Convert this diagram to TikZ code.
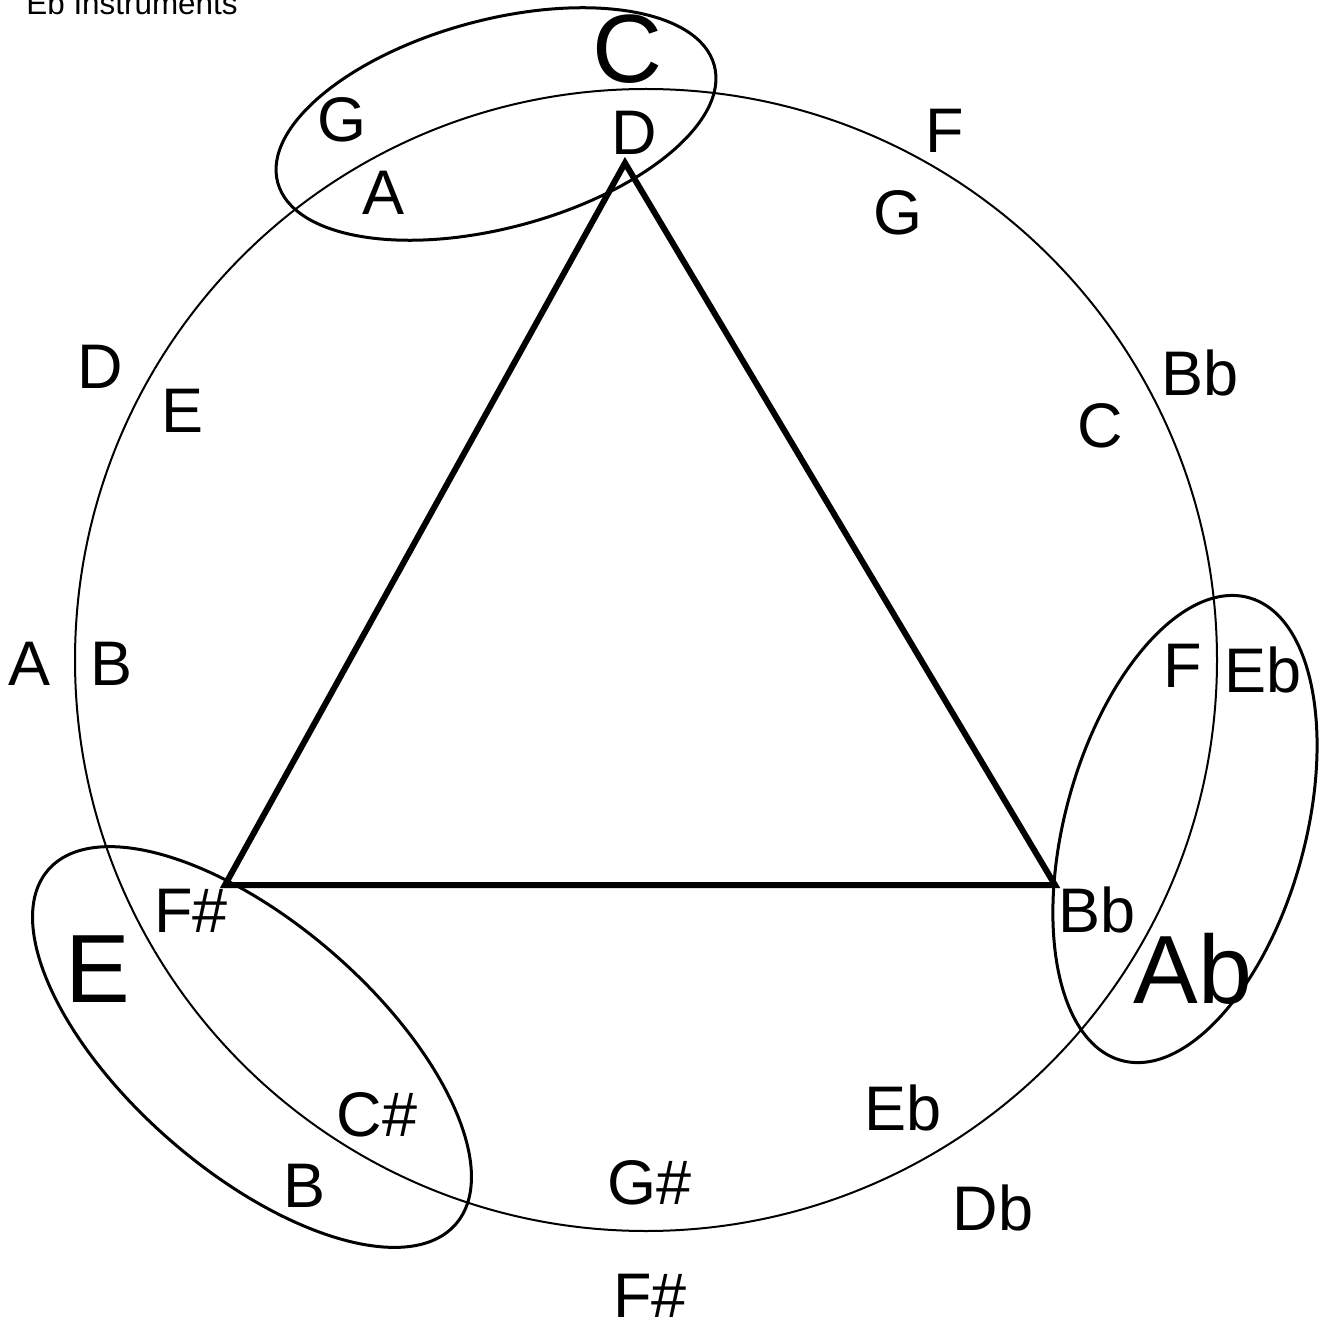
\documentclass[tikz,border=0pt]{standalone}
\usepackage{fontspec}
\setmainfont{Liberation Sans}
\usetikzlibrary{positioning}

\begin{document}
\begin{tikzpicture}[x=0.5pt,y=-0.5pt,
  note/.style={inner sep=0pt,font=\fontsize{31.5}{31.5}\selectfont,text height=22.5pt,text depth=0pt},
  bignote/.style={inner sep=0pt,font=\fontsize{48.5}{48.5}\selectfont,text height=35pt,text depth=0pt},
  ring/.style={line width=1.5pt}]
\useasboundingbox (0,0) rectangle (1324,1321);

% circle of keys
\coordinate (mid) at (646,660);
\draw[line width=1pt] (mid) circle [radius=571];

% triangle
\coordinate (apexD) at (625,163);
\coordinate (apexFs) at (225,885);
\coordinate (apexBb) at (1055,885);
\draw[line width=3pt] (apexD) -- (apexFs) -- (apexBb) -- cycle;

% groups
\coordinate (grpC) at (496,124);
\coordinate (grpE) at (252,1047);
\coordinate (grpAb) at (1185,829);
\draw[ring,rotate around={15:(grpC)}] (grpC) ellipse [x radius=226,y radius=104];
\draw[ring,rotate around={-41:(grpE)}] (grpE) ellipse [x radius=270,y radius=124];
\draw[ring,rotate around={74.6:(grpAb)}] (grpAb) ellipse [x radius=240,y radius=120];

\node[anchor=base west,inner sep=0pt,font=\fontsize{15.7}{15.7}\selectfont] (title) at (26,15) {Eb Instruments};

% big keys
\node[bignote] (bigC) at (628,48) {C};
\node[bignote] (bigE) at (98,967) {E};
\node[bignote] (bigAb) at (1193,968) {Ab};

% outer ring
\node[note] (outG) at (342,119) {G};
\node[note] (outF) at (945,130) {F};
\node[note] (outBb) at (1200,373) {Bb};
\node[note] (outD) at (100,366) {D};
\node[note] (outA) at (30,663) {A};
\node[note] (outEb) at (1263,670) {Eb};
\node[note] (outDb) at (993,1208) {Db};
\node[note] (outFs) at (650,1295) {F\#};

% inner ring
\node[note] (inA) at (384,192) {A};
\node[note] (inD) at (634,132) {D};
\node[note] (inG) at (898,212) {G};
\node[note] (inC) at (1100,425) {C};
\node[note] (inE) at (183,410) {E};
\node[note] (inB) at (112,663) {B};
\node[note] (inF) at (1183,665) {F};
\node[note] (inBb) at (1097,910) {Bb};
\node[note] (inFs) at (191,910) {F\#};
\node[note] (inCs) at (377,1114) {C\#};
\node[note] (inBl) at (305,1185) {B};
\node[note] (inEb) at (903,1108) {Eb};
\node[note] (inGs) at (650,1182) {G\#};
\end{tikzpicture}
\end{document}
